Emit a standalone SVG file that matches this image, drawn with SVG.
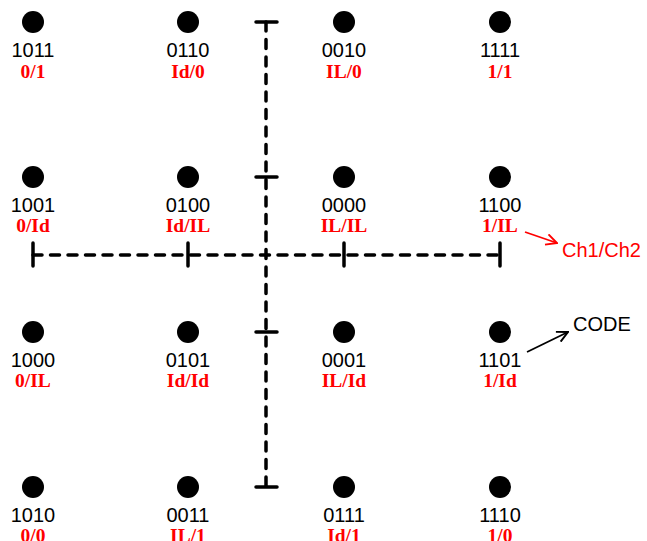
<svg xmlns="http://www.w3.org/2000/svg" width="647" height="541" viewBox="0 0 647 541">
  <style>
    .dot { fill: #000; }
    .code { font-family: "Liberation Sans", Arial, sans-serif; font-size: 20px; fill: #000; text-anchor: middle; }
    .pair { font-family: "Liberation Serif", "Times New Roman", serif; font-size: 19.5px; font-weight: bold; fill: #ff0000; text-anchor: middle; }
    .axis { stroke: #000; stroke-width: 3.5; fill: none; stroke-dasharray: 9 8.5; stroke-linecap: round; }
    .tick { stroke: #000; stroke-width: 3.5; fill: none; stroke-linecap: round; }
    .note { font-family: "Liberation Sans", Arial, sans-serif; font-size: 20px; }
  </style>
  <defs>
    <marker id="openRed" viewBox="0 0 12 12" refX="11" refY="6" markerWidth="13" markerHeight="13" markerUnits="userSpaceOnUse" orient="auto">
      <path d="M1,1 L11,6 L1,11" fill="none" stroke="#ff0000" stroke-width="1.8"/>
    </marker>
    <marker id="openBlack" viewBox="0 0 12 12" refX="11" refY="6" markerWidth="13" markerHeight="13" markerUnits="userSpaceOnUse" orient="auto">
      <path d="M1,1 L11,6 L1,11" fill="none" stroke="#000" stroke-width="1.8"/>
    </marker>
  </defs>

  <rect width="647" height="541" fill="#fff"/>

  <!-- axes with tick marks, plus the two legend arrows -->
  <g id="connectors">
    <line class="axis" x1="33" y1="255" x2="500" y2="255"/>
    <line class="axis" x1="266" y1="22" x2="266" y2="487"/>
    <line class="tick" x1="33" y1="243" x2="33" y2="266"/>
    <line class="tick" x1="188" y1="243" x2="188" y2="266"/>
    <line class="tick" x1="344" y1="243" x2="344" y2="266"/>
    <line class="tick" x1="500" y1="243" x2="500" y2="266"/>
    <line class="tick" x1="256" y1="22" x2="277" y2="22"/>
    <line class="tick" x1="256" y1="177" x2="277" y2="177"/>
    <line class="tick" x1="256" y1="332" x2="277" y2="332"/>
    <line class="tick" x1="256" y1="487" x2="277" y2="487"/>
    <line x1="525" y1="232" x2="557" y2="243" stroke="#ff0000" stroke-width="1.8" marker-end="url(#openRed)"/>
    <line x1="527" y1="352" x2="568" y2="332" stroke="#000" stroke-width="1.8" marker-end="url(#openBlack)"/>
  </g>

  <!-- constellation points: row 1 -->
  <g id="p1011"><circle class="dot" cx="33" cy="22" r="11"/><text class="code" x="33" y="57">1011</text><text class="pair" x="33" y="78">0/1</text></g>
  <g id="p0110"><circle class="dot" cx="188" cy="22" r="11"/><text class="code" x="188" y="57">0110</text><text class="pair" x="188" y="78">Id/0</text></g>
  <g id="p0010"><circle class="dot" cx="344" cy="22" r="11"/><text class="code" x="344" y="57">0010</text><text class="pair" x="344" y="78">IL/0</text></g>
  <g id="p1111"><circle class="dot" cx="500" cy="22" r="11"/><text class="code" x="500" y="57">1111</text><text class="pair" x="500" y="78">1/1</text></g>

  <!-- row 2 -->
  <g id="p1001"><circle class="dot" cx="33" cy="177" r="11"/><text class="code" x="33" y="212">1001</text><text class="pair" x="33" y="232">0/Id</text></g>
  <g id="p0100"><circle class="dot" cx="188" cy="177" r="11"/><text class="code" x="188" y="212">0100</text><text class="pair" x="188" y="232">Id/IL</text></g>
  <g id="p0000"><circle class="dot" cx="344" cy="177" r="11"/><text class="code" x="344" y="212">0000</text><text class="pair" x="344" y="232">IL/IL</text></g>
  <g id="p1100"><circle class="dot" cx="500" cy="177" r="11"/><text class="code" x="500" y="212">1100</text><text class="pair" x="500" y="232">1/IL</text></g>

  <!-- row 3 -->
  <g id="p1000"><circle class="dot" cx="33" cy="332" r="11"/><text class="code" x="33" y="367">1000</text><text class="pair" x="33" y="387">0/IL</text></g>
  <g id="p0101"><circle class="dot" cx="188" cy="332" r="11"/><text class="code" x="188" y="367">0101</text><text class="pair" x="188" y="387">Id/Id</text></g>
  <g id="p0001"><circle class="dot" cx="344" cy="332" r="11"/><text class="code" x="344" y="367">0001</text><text class="pair" x="344" y="387">IL/Id</text></g>
  <g id="p1101"><circle class="dot" cx="500" cy="332" r="11"/><text class="code" x="500" y="367">1101</text><text class="pair" x="500" y="387">1/Id</text></g>

  <!-- row 4 (labels run to the bottom edge) -->
  <g id="p1010"><circle class="dot" cx="33" cy="487" r="11"/><text class="code" x="33" y="522">1010</text><text class="pair" x="33" y="542">0/0</text></g>
  <g id="p0011"><circle class="dot" cx="188" cy="487" r="11"/><text class="code" x="188" y="522">0011</text><text class="pair" x="188" y="542">IL/1</text></g>
  <g id="p0111"><circle class="dot" cx="344" cy="487" r="11"/><text class="code" x="344" y="522">0111</text><text class="pair" x="344" y="542">Id/1</text></g>
  <g id="p1110"><circle class="dot" cx="500" cy="487" r="11"/><text class="code" x="500" y="522">1110</text><text class="pair" x="500" y="542">1/0</text></g>

  <!-- legend labels -->
  <g id="legend-channels"><text class="note" x="562" y="257" fill="#ff0000">Ch1/Ch2</text></g>
  <g id="legend-code"><text class="note" x="573" y="331" fill="#000">CODE</text></g>
</svg>
